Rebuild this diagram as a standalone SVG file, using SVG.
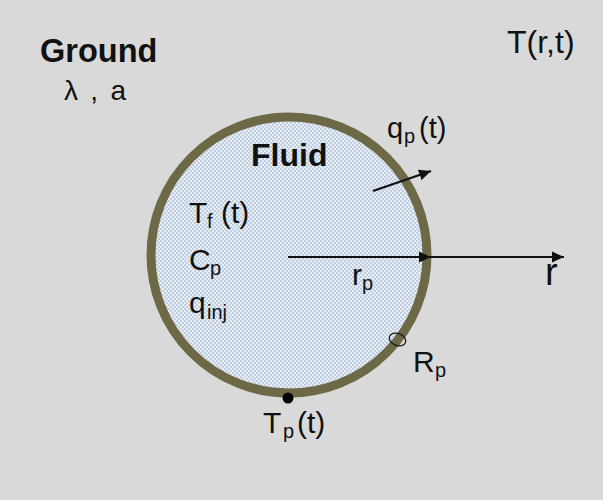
<svg xmlns="http://www.w3.org/2000/svg" width="603" height="500" viewBox="0 0 603 500">
  <style>
    .t { font-family: "Liberation Sans", Arial, sans-serif; fill: #111; }
    .b { font-weight: bold; }
    .m { font-size: 30px; }
    .s { font-size: 20px; }
    .ln { stroke: #111; stroke-width: 2.2; fill: none; }
  </style>
  <defs>
    <pattern id="dots" width="4" height="4" patternUnits="userSpaceOnUse">
      <rect width="4" height="4" fill="#e6edf5"/>
      <circle cx="1" cy="1" r="0.9" fill="#b0c0d6"/>
      <circle cx="3" cy="3" r="0.9" fill="#b0c0d6"/>
    </pattern>
    <marker id="arr" viewBox="0 0 12 12" refX="12" refY="6" markerWidth="12" markerHeight="12" markerUnits="userSpaceOnUse" orient="auto">
      <path d="M0,0.5 L12,6 L0,11.5 Z" fill="#111"/>
    </marker>
  </defs>
  <rect width="603" height="500" fill="#d9d9d9"/>

  <g id="ground">
    <text class="t b" x="40" y="62" font-size="32.5">Ground</text>
    <text class="t" x="64" y="100" font-size="28" textLength="62">λ , a</text>
    <text class="t" x="507" y="53" font-size="32">T(r,t)</text>
  </g>

  <g id="pipe">
    <circle cx="289" cy="255" r="138" fill="url(#dots)" stroke="#6d6946" stroke-width="9"/>
    <text class="t b" x="251" y="166" font-size="32">Fluid</text>
    <text class="t m" x="189" y="223">T</text>
    <text class="t s" x="207" y="228">f</text>
    <text class="t m" x="221" y="223">(t)</text>
    <text class="t m" x="189" y="270">C</text>
    <text class="t s" x="210" y="275">p</text>
    <text class="t m" x="189" y="313">q</text>
    <text class="t s" x="207" y="319">inj</text>
    <text class="t m" x="352" y="285">r</text>
    <text class="t s" x="362" y="290">p</text>
  </g>

  <g id="wall">
    <ellipse cx="397.5" cy="339.5" rx="8.5" ry="6" transform="rotate(20 397.5 339.5)" fill="none" stroke="#1a1a1a" stroke-width="1.3"/>
    <text class="t m" x="413" y="372">R</text>
    <text class="t s" x="435" y="377">p</text>
    <circle cx="288" cy="398" r="5.5" fill="#000"/>
    <text class="t m" x="263" y="433">T</text>
    <text class="t s" x="283" y="438">p</text>
    <text class="t m" x="297" y="433">(t)</text>
  </g>

  <g id="heatflux">
    <text class="t" x="387" y="138" font-size="29">q</text>
    <text class="t s" x="404" y="143">p</text>
    <text class="t" x="419" y="138" font-size="29">(t)</text>
  </g>

  <g id="connectors">
    <line class="ln" x1="288" y1="257" x2="431" y2="257" marker-end="url(#arr)"/>
    <line class="ln" x1="431" y1="257" x2="564" y2="257" marker-end="url(#arr)"/>
    <line class="ln" x1="373" y1="191" x2="431" y2="171" marker-end="url(#arr)"/>
    <text class="t" x="545" y="285" font-size="38">r</text>
  </g>
</svg>
